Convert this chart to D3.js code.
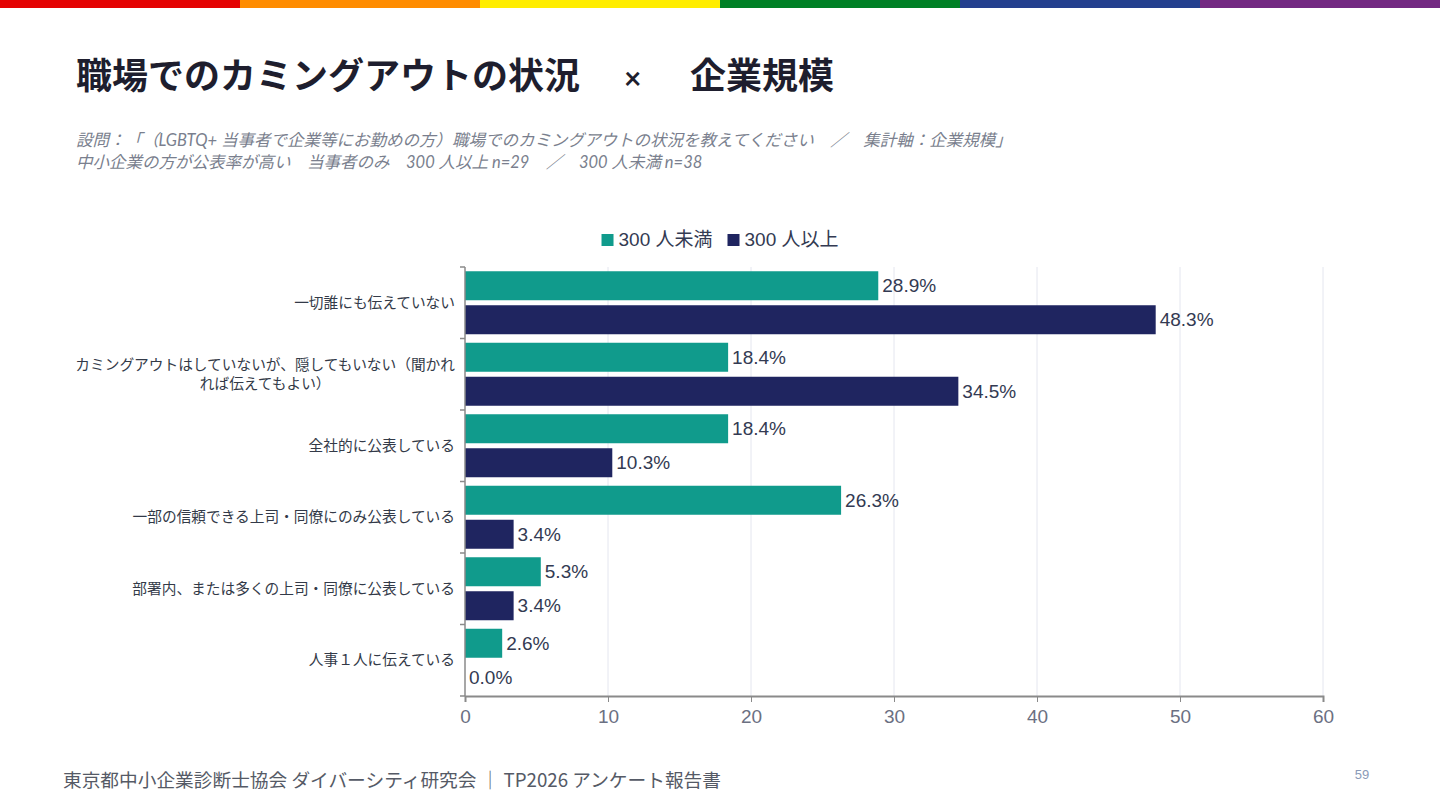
<!DOCTYPE html>
<html>
<head>
<meta charset="utf-8">
<script src="https://cdn.jsdelivr.net/npm/d3@7/dist/d3.min.js"></script>
<style>
  html, body { margin: 0; padding: 0; background: #fff; }
  svg { display: block; }
  text { text-spacing-trim: space-all; }
</style>
</head>
<body>
<div id="chart"></div>
<script>
// data
const categories = [
  '一切誰にも伝えていない',
  'カミングアウトはしていないが、隠してもいない（聞かれ|れば伝えてもよい）',
  '全社的に公表している',
  '一部の信頼できる上司・同僚にのみ公表している',
  '部署内、または多くの上司・同僚に公表している',
  '人事１人に伝えている'
];
const seriesNames = ['300 人未満', '300 人以上'];
const under300 = [28.9, 18.4, 18.4, 26.3, 5.3, 2.6];
const over300 = [48.3, 34.5, 10.3, 3.4, 3.4, 0.0];
const xTicks = [0, 10, 20, 30, 40, 50, 60];
const stripeColors = ['#e40303', '#ff8c00', '#ffed00', '#008026', '#24408e', '#732982'];
const seriesColors = ['#109b8c', '#1f2560'];

const W = 1440, H = 810;
const jp = '"Noto Sans CJK JP", "Noto Sans", sans-serif';
const latin = '"Liberation Sans", Arial, "Noto Sans CJK JP", sans-serif';

const svg = d3.select('#chart').append('svg')
  .attr('width', W).attr('height', H).attr('viewBox', `0 0 ${W} ${H}`);

// rainbow stripe on top
const stripeX = d3.scaleBand().domain(d3.range(stripeColors.length)).range([0, W]);
svg.selectAll('.stripe').data(stripeColors).enter().append('rect')
  .attr('x', (d, i) => stripeX(i)).attr('y', 0)
  .attr('width', stripeX.bandwidth() + 0.5).attr('height', 8)
  .attr('fill', d => d);

// title
const title = svg.append('text').attr('y', 89)
  .style('font-family', jp).style('font-weight', 'bold')
  .style('font-size', '36px').style('fill', '#1e1e2e');
title.append('tspan').attr('x', 76).text('職場でのカミングアウトの状況');
title.append('tspan').attr('x', 624).style('font-family', '"Lato", sans-serif').style('font-size', '30px').text('×');
title.append('tspan').attr('x', 690).text('企業規模');

// zero width space keeps the two brackets from being squeezed together
const subLines = [
  '設問：「\u200B（LGBTQ+ 当事者で企業等にお勤めの方）職場でのカミングアウトの状況を教えてください　／　集計軸：企業規模」',
  '中小企業の方が公表率が高い　当事者のみ　300 人以上 n=29　／　300 人未満 n=38'
];
svg.selectAll('.sub').data(subLines).enter().append('text')
  .text(d => d)
  .attr('x', 76).attr('y', (d, i) => 146 + i * 22)
  .style('font-family', '"Lato", "Noto Sans CJK JP", sans-serif')
  .style('font-style', 'italic').style('font-size', '16.5px')
  .style('fill', '#7a7f8e');

// plot area
const plotL = 465, plotR = 1323, plotT = 267, plotB = 696;
const x = d3.scaleLinear().domain([0, 60]).range([plotL, plotR]);
const y = d3.scaleBand().domain(categories).range([plotT, plotB]);
const inner = d3.scaleBand().domain([0, 1]).range([0, y.bandwidth()]).paddingInner(0.147).paddingOuter(0.125);

const g = svg.append('g');

// grid
g.selectAll('.grid').data(xTicks.slice(1)).enter().append('line')
  .attr('x1', d => x(d)).attr('x2', d => x(d))
  .attr('y1', plotT).attr('y2', plotB)
  .attr('stroke', '#e4e6ef').attr('stroke-width', 1);

// bars
const series = [under300, over300];
series.forEach((vals, s) => {
  g.selectAll('.bar' + s).data(vals).enter().append('rect')
    .attr('x', x(0))
    .attr('y', (d, i) => y(categories[i]) + inner(s))
    .attr('width', d => x(d) - x(0))
    .attr('height', inner.bandwidth())
    .attr('fill', seriesColors[s]);
  g.selectAll('.lab' + s).data(vals).enter().append('text')
    .text(d => d.toFixed(1) + '%')
    .attr('x', d => x(d) + 4)
    .attr('y', (d, i) => y(categories[i]) + inner(s) + inner.bandwidth() / 2)
    .attr('dy', '0.35em')
    .style('font-family', latin).style('font-size', '19px')
    .style('fill', '#333a52');
});

// x axis
const xAxis = g.append('g').attr('transform', `translate(0,${plotB})`)
  .call(d3.axisBottom(x).tickValues(xTicks).tickSize(6).tickPadding(8));
xAxis.select('.domain').attr('stroke', '#8a8a8a').attr('stroke-width', 2);
xAxis.selectAll('line').attr('stroke', '#8a8a8a');
xAxis.selectAll('text').style('font-family', latin).style('font-size', '19px').style('fill', '#6b7082');

// y axis
g.append('line').attr('x1', plotL).attr('x2', plotL).attr('y1', plotT).attr('y2', plotB)
  .attr('stroke', '#8a8a8a').attr('stroke-width', 1.5);
const bounds = categories.map(c => y(c)).concat([plotB]);
g.selectAll('.ytick').data(bounds).enter().append('line')
  .attr('x1', plotL - 5).attr('x2', plotL).attr('y1', d => d).attr('y2', d => d)
  .attr('stroke', '#8a8a8a').attr('stroke-width', 1.5);

// category labels
categories.forEach(c => {
  const lines = c.split('|');
  const cy = y(c) + y.bandwidth() / 2;
  const t = g.append('text')
    .attr('text-anchor', 'end')
    .style('font-family', jp).style('font-size', '14.7px').style('fill', '#333a48');
  lines.forEach((ln, i) => {
    t.append('tspan')
      .attr('x', 455)
      .attr('y', cy + (i - (lines.length - 1) / 2) * 19)
      .attr('dy', '0.35em')
      .text(ln);
  });
  if (lines.length > 1) {
    // following lines centred under the first
    const first = t.select('tspan').node().getComputedTextLength();
    t.selectAll('tspan').filter((d, i) => i > 0)
      .attr('text-anchor', 'middle').attr('x', 455 - first / 2);
  }
});

// legend, centred on the page
const legend = svg.append('g');
let lx = 0;
seriesNames.forEach((n, i) => {
  const it = legend.append('g');
  it.append('rect').attr('width', 12).attr('height', 12).attr('y', -12).attr('fill', seriesColors[i]);
  const tx = it.append('text').text(n).attr('x', 17)
    .style('font-family', latin).style('font-size', '19px').style('fill', '#333a52');
  const w = 17 + tx.node().getComputedTextLength();
  it.attr('transform', `translate(${lx},0)`);
  lx += w + 15;
});
const lw = lx - 15;
legend.attr('transform', `translate(${W / 2 - lw / 2},246)`);

// footer
svg.append('text').text('東京都中小企業診断士協会 ダイバーシティ研究会 ｜ TP2026 アンケート報告書')
  .attr('x', 63).attr('y', 787)
  .style('font-family', jp).style('font-size', '18.7px').style('fill', '#555a66');
svg.append('text').text('59')
  .attr('x', 1362).attr('y', 779).attr('text-anchor', 'middle')
  .style('font-family', latin).style('font-size', '13px').style('fill', '#8a9ab8');
</script>
</body>
</html>
